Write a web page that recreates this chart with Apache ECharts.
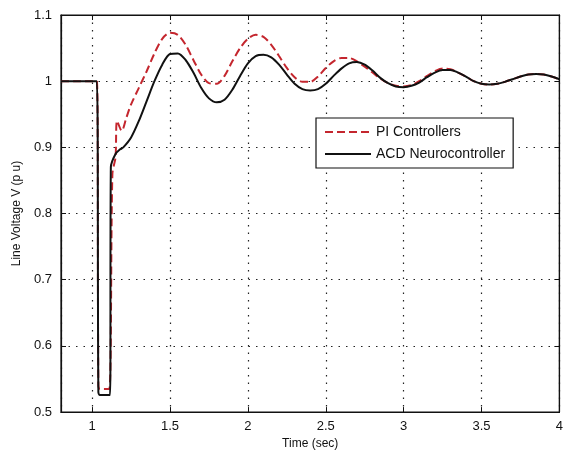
<!DOCTYPE html>
<html><head><meta charset="utf-8">
<script src="https://cdn.jsdelivr.net/npm/echarts@6/dist/echarts.min.js"></script>
<style>html,body{margin:0;padding:0;background:#fff}#c{width:566px;height:455px}</style>
</head><body><div id="c"></div>
<script>
const seriesNames = ['PI Controllers', 'ACD Neurocontroller'];
const xLabelTicks = [1, 1.5, 2, 2.5, 3, 3.5, 4];
const yTicks = [0.5, 0.6, 0.7, 0.8, 0.9, 1, 1.1];
const piX = [0.8,0.9,1.0,1.03,1.04,1.05,1.08,1.11,1.13,1.15,1.16,1.19,1.22,1.25,1.3,1.35,1.4,1.45,1.5,1.55,1.6,1.65,1.7,1.75,1.8,1.85,1.9,1.95,2.0,2.05,2.1,2.15,2.2,2.25,2.3,2.35,2.4,2.45,2.5,2.55,2.6,2.65,2.7,2.75,2.8,2.85,2.9,2.95,3.0,3.05,3.1,3.15,3.2,3.25,3.3,3.35,3.4,3.45,3.5,3.55,3.6,3.65,3.7,3.75,3.8,3.85,3.9,3.95,4.0];
const piY = [1.0,1.0,1.0,1.0,0.54,0.535,0.535,0.535,0.86,0.885,0.94,0.925,0.945,0.965,0.99,1.015,1.042,1.064,1.073,1.07,1.055,1.032,1.01,0.997,0.996,1.008,1.03,1.05,1.064,1.07,1.067,1.055,1.038,1.02,1.006,0.999,0.999,1.007,1.02,1.03,1.035,1.035,1.03,1.022,1.013,1.004,0.997,0.993,0.992,0.994,1.0,1.008,1.015,1.019,1.018,1.013,1.007,1.0,0.996,0.995,0.996,0.999,1.003,1.007,1.01,1.011,1.01,1.007,1.003];
const acdX = [0.8,0.9,1.0,1.03,1.04,1.05,1.08,1.115,1.12,1.15,1.18,1.2,1.25,1.3,1.35,1.4,1.45,1.5,1.55,1.6,1.65,1.7,1.75,1.8,1.85,1.9,1.95,2.0,2.05,2.1,2.15,2.2,2.25,2.3,2.35,2.4,2.45,2.5,2.55,2.6,2.65,2.7,2.75,2.8,2.85,2.9,2.95,3.0,3.05,3.1,3.15,3.2,3.25,3.3,3.35,3.4,3.45,3.5,3.55,3.6,3.65,3.7,3.75,3.8,3.85,3.9,3.95,4.0];
const acdY = [1.0,1.0,1.0,1.0,0.53,0.526,0.526,0.526,0.87,0.89,0.897,0.9,0.915,0.94,0.97,1.0,1.025,1.041,1.042,1.032,1.013,0.99,0.974,0.968,0.972,0.987,1.008,1.027,1.038,1.04,1.036,1.025,1.01,0.996,0.988,0.986,0.988,0.996,1.008,1.019,1.027,1.029,1.025,1.016,1.005,0.997,0.992,0.991,0.993,0.998,1.006,1.013,1.017,1.017,1.013,1.007,1.0,0.996,0.995,0.996,0.999,1.003,1.007,1.01,1.011,1.01,1.007,1.003];

const zip = (xs, ys) => xs.map((x, i) => [x, ys[i]]);
const font = 'Liberation Sans, Arial, sans-serif';
const isTick = v => xLabelTicks.some(t => Math.abs(t - v) < 1e-6);
const chart = echarts.init(document.getElementById('c'), null, {renderer: 'canvas'});
const gridLine = {show: true, lineStyle: {type: [1.5, 6], color: '#222', width: 1.2}};
chart.setOption({
  animation: false,
  backgroundColor: '#fff',
  grid: {left: 61, right: 1, top: 15, bottom: 41, show: true, borderColor: '#111', borderWidth: 1.2},
  xAxis: [{
    type: 'value', min: 0.8, max: 4, splitNumber: 7,
    name: 'Time (sec)', nameLocation: 'middle', nameGap: 24,
    nameTextStyle: {fontFamily: font, fontSize: 12, color: '#111'},
    axisLine: {show: true, onZero: false, lineStyle: {color: '#111', width: 1.2}},
    axisTick: {show: true, inside: true, length: 5, lineStyle: {color: '#111'}},
    axisLabel: {fontFamily: font, fontSize: 13, color: '#111', margin: 8,
      formatter: v => isTick(v) ? String(v) : ''},
    splitLine: gridLine
  }, {
    type: 'value', min: 0.8, max: 4, splitNumber: 7, position: 'top',
    axisLine: {show: true, lineStyle: {color: '#111', width: 1.2}},
    axisTick: {show: true, inside: true, length: 5, lineStyle: {color: '#111'}},
    axisLabel: {show: false}, splitLine: {show: false}
  }],
  yAxis: [{
    type: 'value', min: yTicks[0], max: yTicks[yTicks.length - 1], interval: 0.1,
    name: 'Line Voltage V (p u)', nameLocation: 'middle', nameGap: 35,
    nameTextStyle: {fontFamily: font, fontSize: 12, color: '#111'},
    axisLine: {show: true, lineStyle: {color: '#111', width: 1.2}},
    axisTick: {show: true, inside: true, length: 5, lineStyle: {color: '#111'}},
    axisLabel: {fontFamily: font, fontSize: 13, color: '#111', margin: 9,
      formatter: v => String(Math.round(v * 10) / 10)},
    splitLine: gridLine
  }, {
    type: 'value', min: yTicks[0], max: yTicks[yTicks.length - 1], interval: 0.1, position: 'right',
    axisLine: {show: true, lineStyle: {color: '#111', width: 1.2}},
    axisTick: {show: true, inside: true, length: 5, lineStyle: {color: '#111'}},
    axisLabel: {show: false}, splitLine: {show: false}
  }],
  legend: {
    left: 316, top: 118, orient: 'vertical',
    backgroundColor: '#fff', borderColor: '#111', borderWidth: 1.2,
    padding: [7, 8, 7, 8], itemGap: 8, itemWidth: 46, itemHeight: 14,
    itemStyle: {opacity: 0},
    textStyle: {fontFamily: font, fontSize: 14, color: '#111'},
    data: seriesNames
  },
  series: [{
    name: seriesNames[0], type: 'line', data: zip(piX, piY),
    showSymbol: false, symbol: 'none', smooth: 0.3,
    lineStyle: {color: '#c4262e', width: 2, type: [8, 4]}, itemStyle: {color: '#c4262e'}
  }, {
    name: seriesNames[1], type: 'line', data: zip(acdX, acdY),
    showSymbol: false, symbol: 'none', smooth: 0.3,
    lineStyle: {color: '#111', width: 2}, itemStyle: {color: '#111'}
  }]
});
</script></body></html>
